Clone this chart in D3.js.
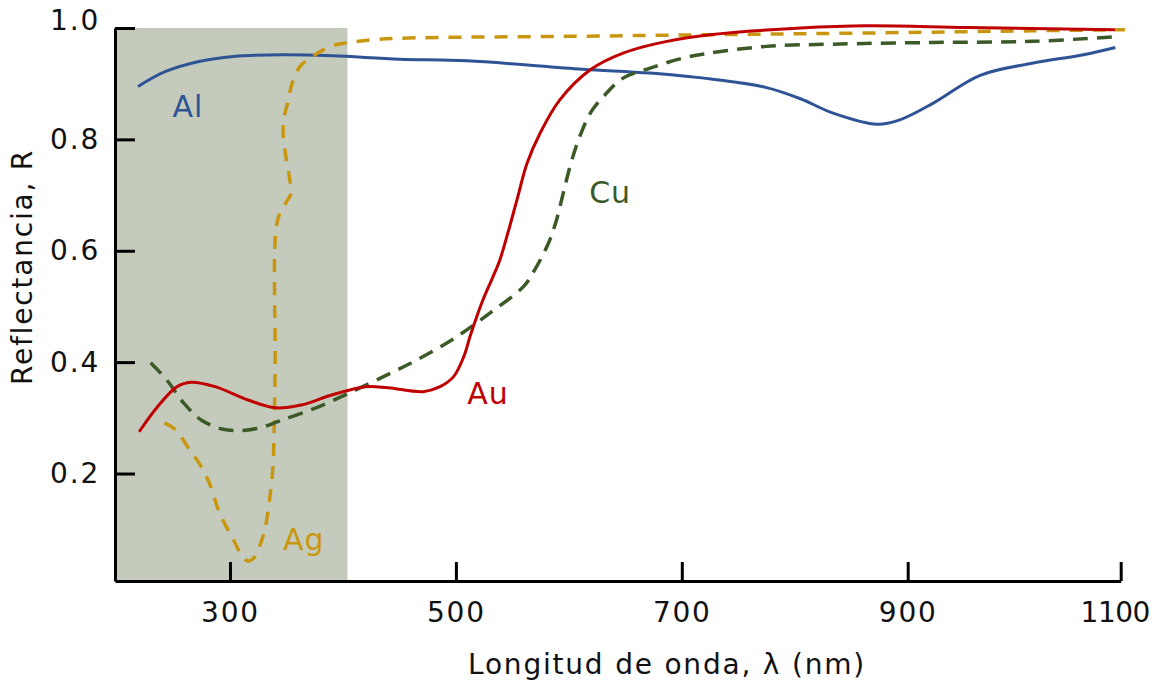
<!DOCTYPE html>
<html>
<head>
<meta charset="utf-8">
<script src="https://cdn.jsdelivr.net/npm/d3@7"></script>
<style>
  html, body { margin: 0; padding: 0; background: #fff; }
  svg { display: block; }
  text { font-family: "DejaVu Sans", sans-serif; }
</style>
</head>
<body>
<svg id="chart" width="1155" height="683"></svg>
<script>
// Reflectance of metal mirrors vs. wavelength (nm, R)
const aluminium = [
  [220, 0.895], [244, 0.922], [273, 0.940], [303, 0.949], [347, 0.952],
  [391, 0.950], [450, 0.944], [510, 0.941], [612, 0.926], [672, 0.919],
  [731, 0.907], [775, 0.893], [805, 0.873], [834, 0.847], [873, 0.827],
  [893, 0.835], [924, 0.865], [968, 0.915], [1018, 0.937], [1065, 0.952],
  [1095, 0.965]
];
const gold = [
  [221, 0.275], [237, 0.320], [254, 0.356], [266, 0.364], [287, 0.356],
  [316, 0.332], [340, 0.318], [363, 0.323], [390, 0.341], [420, 0.356],
  [440, 0.354], [471, 0.347], [486, 0.356], [498, 0.374], [507, 0.410],
  [512.5, 0.446], [518.5, 0.482], [524, 0.512], [533, 0.554], [539, 0.584],
  [546, 0.632], [554, 0.691], [563, 0.757], [574.5, 0.811], [592, 0.871],
  [619, 0.925], [648, 0.955], [687, 0.976], [725, 0.988], [805, 1.000],
  [864, 1.004], [956, 1.001], [1095, 0.997]
];
const silver = [
  [243, 0.291], [253, 0.278], [265, 0.242], [273, 0.219], [282, 0.183],
  [291, 0.129], [303, 0.081], [312, 0.048], [316, 0.043], [321, 0.048],
  [330, 0.093], [335, 0.153], [338, 0.212], [339, 0.272], [340, 0.422],
  [339.5, 0.512], [339.5, 0.596], [341, 0.643], [344, 0.667], [350, 0.688],
  [354, 0.703], [352.5, 0.733], [349.5, 0.769], [347, 0.811], [348, 0.841],
  [351, 0.865], [355, 0.901], [362, 0.931], [371, 0.946], [381, 0.959],
  [394, 0.970], [406, 0.974], [427, 0.979], [458, 0.982], [598, 0.985],
  [731, 0.988], [864, 0.991], [1018, 0.995], [1104, 0.997]
];
const copper = [
  [231, 0.399], [245, 0.368], [260, 0.326], [275, 0.296], [293, 0.280],
  [310, 0.277], [328, 0.283], [346, 0.296], [375, 0.317], [405, 0.344],
  [442, 0.380], [471, 0.410], [501, 0.446], [530, 0.488], [560, 0.536],
  [569, 0.563], [582, 0.614], [589, 0.655], [595, 0.703], [601, 0.751],
  [608, 0.796], [619, 0.847], [632, 0.880], [648, 0.910], [672, 0.928],
  [701, 0.946], [725, 0.955], [775, 0.967], [834, 0.971], [924, 0.974],
  [1018, 0.976], [1099, 0.985]
];
const xTicks = [300, 500, 700, 900, 1100];
const yTicks = [0.2, 0.4, 0.6, 0.8, 1.0];
const uvBand = [200, 404];   // shaded ultraviolet region, nm

const series = [
  { name: "Al", data: aluminium, color: "#2f5496", dash: null,    label: [250, 0.840] },
  { name: "Ag", data: silver,    color: "#c9970f", dash: "13 10", label: [347, 0.063] },
  { name: "Cu", data: copper,    color: "#3b5a27", dash: "15 9",  label: [618, 0.685] },
  { name: "Au", data: gold,      color: "#c00000", dash: null,    label: [510, 0.325] }
];

const svg = d3.select("#chart");

// wavelength axis: drawn slightly non-uniform, with the last tick at the axis end
const x = d3.scaleLinear()
  .domain([200, 300, 900, 1100])
  .range([115, 230, 907.7, 1120.7]);
// the horizontal axis sits a hair above R = 0
const y = d3.scaleLinear().domain([0.007, 1.0]).range([581, 28]);

// UV band
svg.append("rect")
  .attr("x", x(uvBand[0]))
  .attr("y", y(1.0))
  .attr("width", x(uvBand[1]) - x(uvBand[0]))
  .attr("height", y(0.007) - y(1.0))
  .attr("fill", "#c4cbbc");

const line = d3.line()
  .x(d => x(d[0]))
  .y(d => y(d[1]))
  .curve(d3.curveCatmullRom.alpha(0.5));

const curves = svg.append("g");
series.forEach(s => {
  curves.append("path")
    .datum(s.data)
    .attr("d", line)
    .attr("fill", "none")
    .attr("stroke", s.color)
    .attr("stroke-width", s.dash ? 3.5 : 3)
    .attr("stroke-dasharray", s.dash)
    .attr("stroke-linejoin", "round");
  curves.append("text")
    .attr("x", x(s.label[0]))
    .attr("y", y(s.label[1]))
    .attr("fill", s.color)
    .attr("font-size", 30)
    .attr("letter-spacing", 1)
    .text(s.name);
});

// axes
const xAxis = d3.axisBottom(x)
  .tickValues(xTicks)
  .tickFormat(d3.format("d"))
  .tickSizeInner(-19)
  .tickSizeOuter(0)
  .tickPadding(21);
const yAxis = d3.axisLeft(y)
  .tickValues(yTicks)
  .tickFormat(d3.format(".1f"))
  .tickSizeInner(-20)
  .tickSizeOuter(0)
  .tickPadding(15);

function styleAxis(g) {
  g.select(".domain").attr("stroke", "#000").attr("stroke-width", 3);
  g.selectAll(".tick line").attr("stroke", "#000").attr("stroke-width", 3);
  g.selectAll(".tick text")
    .attr("fill", "#111")
    .attr("font-size", 28)
    .attr("letter-spacing", 1.8)
    .style("font-family", "DejaVu Sans, sans-serif");
}

const gx = svg.append("g")
  .attr("transform", `translate(0,${y(0.007)})`)
  .call(xAxis)
  .call(styleAxis);
// keep the last label inside the frame
gx.selectAll(".tick").filter(d => d === 1100).select("text")
  .attr("letter-spacing", -0.5)
  .attr("dx", -6);

const gy = svg.append("g")
  .attr("transform", `translate(${x(200)},0)`)
  .call(yAxis)
  .call(styleAxis);
// lift the top label so it clears the corner
gy.selectAll(".tick").filter(d => d === 1.0).select("text").attr("dy", "0.04em");

// axis titles
svg.append("text")
  .attr("x", 667)
  .attr("y", 674)
  .attr("text-anchor", "middle")
  .attr("font-size", 28)
  .attr("letter-spacing", 1.8)
  .attr("fill", "#111")
  .text("Longitud de onda, λ (nm)");

svg.append("text")
  .attr("transform", "translate(32,267) rotate(-90)")
  .attr("text-anchor", "middle")
  .attr("font-size", 28)
  .attr("letter-spacing", 1.8)
  .attr("fill", "#111")
  .text("Reflectancia, R");
</script>
</body>
</html>
